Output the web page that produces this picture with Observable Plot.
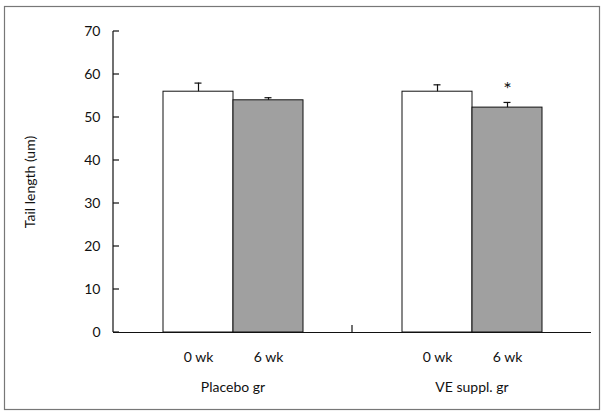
<!DOCTYPE html>
<html>
<head>
<meta charset="utf-8">
<script src="https://cdn.jsdelivr.net/npm/d3@7"></script>
<script src="https://cdn.jsdelivr.net/npm/@observablehq/plot@0.6"></script>
<style>
  html, body { margin: 0; padding: 0; background: #fff; }
  #chart { width: 604px; height: 414px; }
</style>
</head>
<body>
<div id="chart"></div>
<script>
// ---- data ----
const groups = ["Placebo gr", "Placebo gr", "VE suppl. gr", "VE suppl. gr"];
const times  = ["0 wk", "6 wk", "0 wk", "6 wk"];
const means  = [56.0, 54.0, 56.0, 52.3];
const errs   = [2.0, 0.6, 1.6, 1.2];
const marks  = ["", "", "", "*"];
const yTicks = [0, 10, 20, 30, 40, 50, 60, 70];
const yLabel = "Tail length (um)";

const data = groups.map((g, i) => ({group: g, time: times[i], mean: means[i], err: errs[i], top: means[i] + errs[i], mark: marks[i]}));

const W = 604, H = 414;
const plot = Plot.plot({
  width: W, height: H,
  marginLeft: 113, marginRight: 13, marginTop: 31, marginBottom: 82,
  style: {fontFamily: "Lato, 'Open Sans', sans-serif", fontSize: "14px", color: "#111", background: "#fff"},
  fx: {domain: ["Placebo gr", "VE suppl. gr"], padding: 0},
  x: {domain: ["0 wk", "6 wk"], paddingInner: 0, paddingOuter: 0.707},
  y: {domain: [0, 70]},
  marks: [
    Plot.barY(data, {fx: "group", x: "time", y: "mean", fill: d => d.time === "0 wk" ? "#ffffff" : "#a0a0a0", stroke: "#111", strokeWidth: 1}),
    Plot.ruleX(data, {fx: "group", x: "time", y1: "mean", y2: "top", stroke: "#111", strokeWidth: 1.2}),
    Plot.tickY(data, {fx: "group", x: "time", y: "top", stroke: "#111", strokeWidth: 1.2, insetLeft: 31.5, insetRight: 31.5}),
    Plot.text(data, {fx: "group", x: "time", y: "top", text: "mark", dy: -13, fontSize: 20}),
    Plot.ruleY([0], {stroke: "#111", strokeWidth: 1.2}),
    Plot.axisY({ticks: yTicks, tickSize: 0, tickPadding: 13, tickFormat: d => d, label: yLabel, labelAnchor: "center", labelOffset: 88, labelArrow: "none"}),
    Plot.axisX({anchor: "bottom", tickSize: 0, tickPadding: 20, label: null}),
    Plot.axisFx({anchor: "bottom", tickSize: 0, tickPadding: 50, label: null})
  ]
});

document.getElementById("chart").appendChild(plot);

// remove any arrow from the y-axis label
d3.select(plot).selectAll("text").each(function() {
  const t = d3.select(this);
  if (t.text().includes("Tail length")) t.text(yLabel);
});

// y-axis line, inward ticks and middle x tick drawn from the library's scales
const svg = d3.select(plot);
const ys = plot.scale("y"), fxs = plot.scale("fx");
const y0 = ys.apply(0), y70 = ys.apply(70);
const axX = 113;
svg.append("line").attr("x1", axX).attr("x2", axX).attr("y1", y0).attr("y2", y70)
  .attr("stroke", "#111").attr("stroke-width", 1.2);
yTicks.forEach(v => {
  const yy = ys.apply(v);
  svg.append("line").attr("x1", axX).attr("x2", axX + 6).attr("y1", yy).attr("y2", yy)
    .attr("stroke", "#111").attr("stroke-width", 1.2);
});
const mid = fxs.apply("VE suppl. gr");
svg.append("line").attr("x1", mid).attr("x2", mid).attr("y1", y0).attr("y2", y0 - 7)
  .attr("stroke", "#111").attr("stroke-width", 1.2);
// outer frame
svg.append("rect").attr("x", 4.5).attr("y", 6.5).attr("width", 595).attr("height", 403)
  .attr("fill", "none").attr("stroke", "#777").attr("stroke-width", 1.2);
</script>
</body>
</html>
